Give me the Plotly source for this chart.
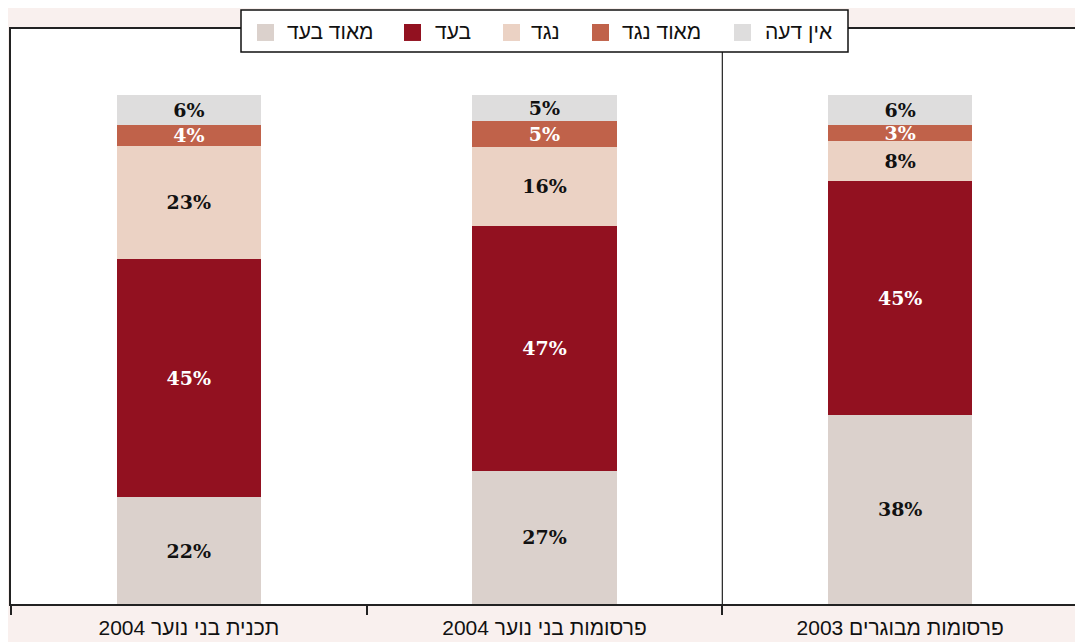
import plotly.graph_objects as go

# ---------------- data ----------------
categories = ["תכנית בני נוער 2004", "פרסומות בני נוער 2004", "פרסומות מבוגרים 2003"]
series_names = ["מאוד בעד", "בעד", "נגד", "מאוד נגד", "אין דעה"]

strongly_for = [21.0, 26.2, 37.2]
in_favor = [46.8, 48.1, 45.8]
against = [22.2, 15.5, 8.0]
strongly_against = [4.1, 5.1, 3.1]
no_opinion = [5.9, 5.1, 5.9]

strongly_for_labels = ["22%", "27%", "38%"]
in_favor_labels = ["45%", "47%", "45%"]
against_labels = ["23%", "16%", "8%"]
strongly_against_labels = ["4%", "5%", "3%"]
no_opinion_labels = ["6%", "5%", "6%"]

# ---------------- style ----------------
colors = ["#dbd1cc", "#921120", "#ebd2c4", "#c0624a", "#dedddd"]
text_colors = ["#111111", "#ffffff", "#111111", "#ffffff", "#111111"]
paper_bg = "#f9f0ee"

# page has an 8px body margin; figure is sized so the plot lands where the reference has it
W, H = 1075, 634
ML, MR, MT, MB = 3, 5, 21, 36
PW, PH = W - ML - MR, H - MT - MB
REF_L, REF_B = 11, 606  # plot-area left / bottom in reference pixel coords


def px(x):
    return (x - REF_L) / PW


def py(y):
    return (REF_B - y) / PH


values = [strongly_for, in_favor, against, strongly_against, no_opinion]
labels = [strongly_for_labels, in_favor_labels, against_labels,
          strongly_against_labels, no_opinion_labels]

fig = go.Figure()
for name, vals, labs, col, tcol in zip(series_names, values, labels, colors, text_colors):
    fig.add_trace(go.Bar(
        x=categories, y=vals, name=name, text=labs,
        marker=dict(color=col, line=dict(width=0)),
        width=0.405,
        textposition="inside", insidetextanchor="middle", textangle=0,
        constraintext="none",
        textfont=dict(family="DejaVu Serif, serif",
                      size=19, color=tcol, weight="bold"),
        showlegend=False,
        hoverinfo="skip",
    ))

shapes = []
annotations = []

# divider line between 2nd and 3rd category
shapes.append(dict(type="line", xref="x", yref="paper", x0=1.5, x1=1.5, y0=0, y1=1,
                   line=dict(color="#222222", width=1.2), layer="above"))

# manual legend box (swatch left of Hebrew label)
shapes.append(dict(type="rect", xref="paper", yref="paper",
                   x0=px(241), x1=px(848), y0=py(52), y1=py(10),
                   fillcolor="white", line=dict(color="#111111", width=1.5), layer="above"))
swatch_x = [257, 404, 503, 592, 734]
text_x = [285, 433, 529, 620, 763]
for name, col, sx, tx in zip(series_names, colors, swatch_x, text_x):
    shapes.append(dict(type="rect", xref="paper", yref="paper",
                       x0=px(sx), x1=px(sx + 17), y0=py(41), y1=py(24),
                       fillcolor=col, line=dict(width=0), layer="above"))
    annotations.append(dict(xref="paper", yref="paper", x=px(tx), y=py(32),
                            xanchor="left", yanchor="middle", text=name, showarrow=False,
                            font=dict(family="Liberation Sans, Arial, sans-serif",
                                      size=21, color="#111111")))

fig.update_layout(
    width=W, height=H,
    barmode="stack",
    margin=dict(l=ML, r=MR, t=MT, b=MB),
    paper_bgcolor=paper_bg,
    plot_bgcolor="white",
    uniformtext=dict(minsize=19, mode="show"),
    shapes=shapes,
    annotations=annotations,
    xaxis=dict(
        type="category", range=[-0.5, 2.5],
        showline=True, mirror=True, linecolor="#222222", linewidth=1.5,
        ticks="outside", tickson="boundaries", ticklen=9, tickcolor="#222222", tickwidth=1.5,
        ticklabelstandoff=4,
        tickfont=dict(family="Liberation Sans, Arial, sans-serif", size=21, color="#111111"),
        showgrid=False, zeroline=False,
    ),
    yaxis=dict(
        range=[0, 112.9],
        showline=True, mirror=True, linecolor="#222222", linewidth=1.5,
        showticklabels=False, ticks="", showgrid=False, zeroline=False,
    ),
    font=dict(family="Liberation Sans, Arial, sans-serif"),
)

fig.write_html("out.html")
